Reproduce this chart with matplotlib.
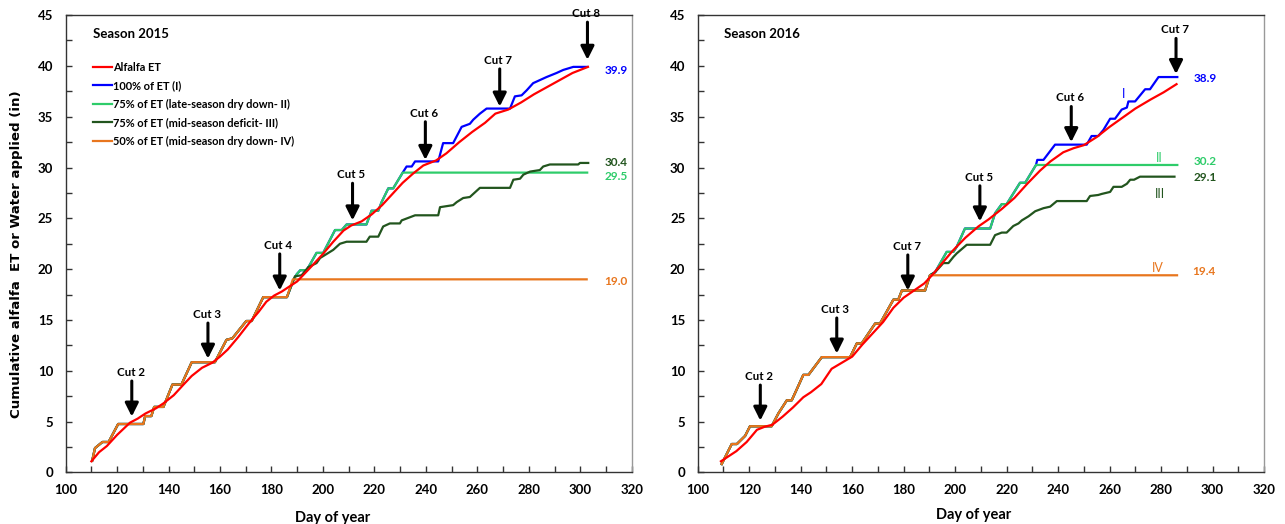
import matplotlib
matplotlib.use("Agg")
import matplotlib.pyplot as plt
from matplotlib.ticker import MultipleLocator
import matplotlib.font_manager as fm

# ---------------- DATA ----------------
# Season 2015
et15_day = [110, 113, 116, 120, 125, 128, 131, 135, 138, 142, 146, 149, 153, 157, 160, 163, 167, 171,
            175, 178, 181, 184, 187, 190, 193, 196, 200, 204, 208, 211, 215, 219, 223, 227, 231, 235,
            239, 244, 248, 253, 258, 263, 267, 272, 277, 282, 287, 292, 297, 303]
et15_val = [1.1, 2.0, 2.6, 3.7, 4.9, 5.3, 5.8, 6.3, 6.8, 7.6, 8.7, 9.5, 10.3, 10.8, 11.4, 12.1, 13.3, 14.6,
            15.8, 16.8, 17.4, 17.8, 18.3, 18.8, 19.6, 20.4, 21.5, 22.7, 23.8, 24.3, 24.7, 25.4, 26.3, 27.4,
            28.5, 29.4, 30.2, 30.7, 31.4, 32.5, 33.5, 34.4, 35.3, 35.7, 36.4, 37.2, 37.9, 38.6, 39.3, 39.9]

common15_day = [110.3, 111.4, 114.3, 116.7, 120.4, 130.2, 130.9, 133.3, 134.4, 138.0, 141.5, 145.0,
                149.0, 158.0, 162.5, 164.8, 170.2, 172.3, 176.8, 186.0]
common15_val = [1.15, 2.4, 3.0, 3.0, 4.77, 4.77, 5.55, 5.55, 6.45, 6.45, 8.65, 8.65,
                10.85, 10.85, 13.05, 13.2, 14.9, 14.9, 17.25, 17.25]

t4_15_day = [188.3, 302.5]
t4_15_val = [19.0, 19.0]

t2_15_day = [188.5, 189.8, 191.2, 193.7, 197.5, 200.1, 204.7, 207.3, 209.2, 216.9, 218.9, 221.5,
             222.8, 225.4, 227.3, 231.0, 302.7]
t2_15_val = [18.9, 19.5, 19.9, 19.9, 21.6, 21.6, 23.85, 23.85, 24.4, 24.4, 25.75, 25.75,
             26.6, 27.95, 27.95, 29.5, 29.5]

t1_15_day = [232.5, 234.5, 235.8, 244.8, 246.7, 250.6, 253.9, 257.1, 258.4, 261.0, 263.6, 272.7,
             274.6, 277.2, 279.2, 281.7, 284.3, 286.9, 290.8, 293.4, 297.3, 302.7]
t1_15_val = [30.1, 30.1, 30.6, 30.6, 32.4, 32.4, 34.0, 34.3, 34.7, 35.3, 35.8, 35.8,
             37.0, 37.1, 37.6, 38.3, 38.6, 38.9, 39.3, 39.6, 39.9, 39.9]

t3_15_day = [188.5, 189.1, 191.7, 194.3, 197.5, 198.9, 202.1, 204.0, 206.6, 209.2, 216.9, 218.2,
             221.5, 223.4, 226.0, 229.9, 230.6, 235.8, 244.8, 245.5, 250.6, 252.0, 254.5, 257.1,
             261.0, 272.7, 274.0, 276.6, 277.9, 280.5, 284.3, 285.6, 288.2, 299.2, 299.9, 303.1]
t3_15_val = [18.9, 19.3, 19.4, 20.2, 20.6, 21.1, 21.6, 21.9, 22.5, 22.7, 22.7, 23.2,
             23.2, 24.2, 24.5, 24.5, 24.8, 25.3, 25.3, 26.1, 26.3, 26.6, 27.0, 27.1,
             28.0, 28.0, 28.8, 28.9, 29.3, 29.6, 29.75, 30.1, 30.3, 30.3, 30.45, 30.45]

# Season 2016
et16_day = [109, 112, 115, 119, 123, 126, 129, 133, 137, 141, 144, 148, 152, 156, 160, 164, 168, 172,
            176, 180, 184, 188, 191, 195, 199, 204, 209, 213, 218, 223, 228, 233, 237, 242, 246, 250,
            255, 260, 265, 270, 276, 281, 286]
et16_val = [1.1, 1.6, 2.1, 3.0, 4.2, 4.5, 4.7, 5.5, 6.4, 7.4, 7.9, 8.7, 10.2, 10.8, 11.4, 12.6, 13.7,
            14.8, 16.2, 17.2, 17.9, 18.6, 19.4, 20.6, 21.8, 23.1, 24.2, 24.9, 25.9, 27.0, 28.4, 29.7,
            30.6, 31.5, 31.9, 32.2, 33.0, 34.0, 34.9, 35.8, 36.7, 37.4, 38.2]

common16_day = [109.3, 113.2, 115.2, 118.4, 120.3, 128.7, 131.3, 134.6, 136.5, 138.5, 141.0, 143.0,
                148.2, 159.2, 161.8, 163.7, 168.9, 170.8, 176.0, 177.9, 179.3, 188.3, 190.2]
common16_val = [0.83, 2.8, 2.8, 3.6, 4.55, 4.55, 5.8, 7.1, 7.1, 8.2, 9.6, 9.6,
                11.35, 11.35, 12.7, 12.7, 14.65, 14.65, 17.0, 17.0, 17.9, 17.9, 19.4]

t4_16_day = [286.2]
t4_16_val = [19.4]

t2_16_day = [192.2, 196.7, 199.3, 200.6, 203.8, 213.6, 215.5, 218.1, 220.0, 225.2, 227.2, 231.4, 286.3]
t2_16_val = [19.7, 21.7, 21.7, 22.2, 24.0, 24.0, 25.5, 26.4, 26.4, 28.5, 28.5, 30.25, 30.25]

t1_16_day = [231.9, 234.3, 238.8, 251.1, 253.0, 255.6, 257.6, 260.2, 262.1, 264.7, 266.7, 267.3,
             269.9, 273.8, 275.7, 279.0, 286.3]
t1_16_val = [30.75, 30.75, 32.25, 32.25, 33.1, 33.1, 33.7, 34.8, 34.8, 35.7, 35.9, 36.5,
             36.5, 37.7, 37.7, 38.9, 38.9]

t3_16_day = [192.2, 195.4, 197.4, 199.3, 200.6, 204.5, 213.6, 215.5, 218.1, 220.0, 222.6, 224.6,
             225.9, 228.5, 231.1, 234.3, 236.9, 239.5, 251.1, 252.4, 255.6, 256.9, 260.2, 261.5,
             264.7, 266.7, 268.0, 269.5, 271.8, 285.2]
t3_16_val = [19.7, 20.6, 20.6, 21.2, 21.55, 22.4, 22.4, 23.35, 23.6, 23.6, 24.25, 24.5,
             24.8, 25.2, 25.7, 26.0, 26.15, 26.7, 26.7, 27.2, 27.3, 27.4, 27.6, 28.1,
             28.1, 28.4, 28.8, 28.8, 29.1, 29.1]

# cut arrows: (label, day, top value, tip value)
cuts15_label = ["Cut 2", "Cut 3", "Cut 4", "Cut 5", "Cut 6", "Cut 7", "Cut 8"]
cuts15_day = [125.7, 155.3, 183.2, 211.5, 239.8, 268.7, 302.8]
cuts15_top = [9.0, 14.7, 21.5, 28.45, 34.5, 39.7, 44.3]
cuts15_tip = [5.5, 11.2, 17.9, 24.8, 30.75, 36.0, 40.6]

cuts16_label = ["Cut 2", "Cut 3", "Cut 7", "Cut 5", "Cut 6", "Cut 7"]
cuts16_day = [124.3, 154.0, 181.6, 209.6, 245.1, 285.8]
cuts16_top = [8.6, 15.2, 21.4, 28.2, 36.0, 42.7]
cuts16_tip = [5.1, 11.7, 17.9, 24.7, 32.5, 39.2]

final15 = ["39.9", "30.4", "29.5", "19.0"]
final16 = ["38.9", "30.2", "29.1", "19.4"]

legend_labels = ["Alfalfa ET", "100% of ET (I)", "75% of ET (late-season dry down- II)",
                 "75% of ET (mid-season deficit- III)", "50% of ET (mid-season dry down- IV)"]

# ---------------- STYLE ----------------
C_ET = "#FF0000"
C_I = "#0000FF"
C_II = "#2ECC6A"
C_III = "#22551E"
C_IV = "#E8761E"

avail = {f.name for f in fm.fontManager.ttflist}
NARROW = [f for f in ["Liberation Sans Narrow", "Lato", "DejaVu Sans"] if f in avail] or ["DejaVu Sans"]

plt.rcParams["font.family"] = NARROW
plt.rcParams["axes.linewidth"] = 1.0

fig = plt.figure(figsize=(12.85, 5.24), dpi=100)
ax1 = fig.add_axes([0.0511, 0.0983, 0.4405, 0.873])
ax2 = fig.add_axes([0.5430, 0.0983, 0.4407, 0.873])

LW = 1.6


def style_axes(ax):
    ax.set_xlim(100, 320)
    ax.set_ylim(0, 45)
    ax.xaxis.set_major_locator(MultipleLocator(20))
    ax.xaxis.set_minor_locator(MultipleLocator(10))
    ax.yaxis.set_major_locator(MultipleLocator(5))
    ax.yaxis.set_minor_locator(MultipleLocator(2.5))
    ax.tick_params(which="both", direction="in", length=4, width=1, color="#333333")
    ax.tick_params(axis="x", which="major", pad=8, labelsize=9.5)
    ax.tick_params(axis="y", which="major", pad=9, labelsize=9.5)
    for lab in ax.get_xticklabels() + ax.get_yticklabels():
        lab.set_fontweight("bold")
    for side in ["left", "bottom", "top"]:
        ax.spines[side].set_color("#333333")
    ax.spines["right"].set_color("#999999")
    ax.set_xlabel("Day of year", fontsize=10.5, fontweight="bold")


def draw_cuts(ax, labels, days, tops, tips):
    for lab, d, t, p in zip(labels, days, tops, tips):
        ax.annotate("", xy=(d, p), xytext=(d, t),
                    arrowprops=dict(arrowstyle="-|>", lw=2.2, color="black",
                                    mutation_scale=20, shrinkA=0, shrinkB=0))
        ax.text(d - 0.5, t + 0.3, lab, ha="center", va="bottom", fontsize=8.3, fontweight="bold")


# ---------- 2015 ----------
style_axes(ax1)
i15_d = common15_day + t2_15_day[:-1] + t1_15_day
i15_v = common15_val + t2_15_val[:-1] + t1_15_val
h_i, = ax1.plot(i15_d, i15_v, color=C_I, lw=LW)
h_ii, = ax1.plot(common15_day + t2_15_day, common15_val + t2_15_val, color=C_II, lw=LW)
h_iii, = ax1.plot(common15_day + t3_15_day, common15_val + t3_15_val, color=C_III, lw=LW)
h_iv, = ax1.plot(common15_day + t4_15_day, common15_val + t4_15_val, color=C_IV, lw=LW)
h_et, = ax1.plot(et15_day, et15_val, color=C_ET, lw=LW)

draw_cuts(ax1, cuts15_label, cuts15_day, cuts15_top, cuts15_tip)
ax1.text(110.8, 43.1, "Season 2015", fontsize=9.5, fontweight="bold", va="center", ha="left")

ax1.text(314, 39.5, final15[0], color=C_I, fontsize=8.5, fontweight="bold", ha="center", va="center")
ax1.text(314, 30.5, final15[1], color=C_III, fontsize=8.5, fontweight="bold", ha="center", va="center")
ax1.text(314, 29.1, final15[2], color=C_II, fontsize=8.5, fontweight="bold", ha="center", va="center")
ax1.text(314, 18.8, final15[3], color=C_IV, fontsize=8.5, fontweight="bold", ha="center", va="center")

leg = ax1.legend([h_et, h_i, h_ii, h_iii, h_iv], legend_labels, loc="upper left",
                 bbox_to_anchor=(0.049, 0.898), frameon=False, fontsize=7.9,
                 handlelength=1.65, handletextpad=0.1, labelspacing=0.68,
                 borderpad=0, borderaxespad=0)
for t in leg.get_texts():
    t.set_fontweight("bold")

ax1.set_ylabel("Cumulative alfalfa  ET or Water applied (in)", fontsize=9.6,
               fontweight="bold", family="DejaVu Sans")
ax1.yaxis.set_label_coords(-0.076, 0.478)
ax1.xaxis.set_label_coords(0.472, -0.085)

# ---------- 2016 ----------
style_axes(ax2)
ii16_d = common16_day + t2_16_day
ii16_v = common16_val + t2_16_val
ax2.plot(common16_day + t2_16_day[:-1] + t1_16_day, common16_val + t2_16_val[:-1] + t1_16_val,
         color=C_I, lw=LW)
ax2.plot(ii16_d, ii16_v, color=C_II, lw=LW)
ax2.plot(common16_day + t3_16_day, common16_val + t3_16_val, color=C_III, lw=LW)
ax2.plot(common16_day + t4_16_day, common16_val + t4_16_val, color=C_IV, lw=LW)
ax2.plot(et16_day, et16_val, color=C_ET, lw=LW)

draw_cuts(ax2, cuts16_label, cuts16_day, cuts16_top, cuts16_tip)
ax2.text(110.1, 43.1, "Season 2016", fontsize=9.5, fontweight="bold", va="center", ha="left")

ax2.text(297.3, 38.8, final16[0], color=C_I, fontsize=8.5, fontweight="bold", ha="center", va="center")
ax2.text(297.3, 30.6, final16[1], color=C_II, fontsize=8.5, fontweight="bold", ha="center", va="center")
ax2.text(297.3, 29.0, final16[2], color=C_III, fontsize=8.5, fontweight="bold", ha="center", va="center")
ax2.text(296.8, 19.8, final16[3], color=C_IV, fontsize=8.5, fontweight="bold", ha="center", va="center")

ax2.text(265.4, 37.2, "I", color=C_I, fontsize=9, ha="center", va="center")
ax2.text(279.3, 30.9, "II", color=C_II, fontsize=9, ha="center", va="center")
ax2.text(279.7, 27.4, "III", color=C_III, fontsize=9, ha="center", va="center")
ax2.text(278.6, 20.1, "IV", color=C_IV, fontsize=9, ha="center", va="center")
ax2.xaxis.set_label_coords(0.488, -0.077)

fig.savefig("out.png", dpi=100)
